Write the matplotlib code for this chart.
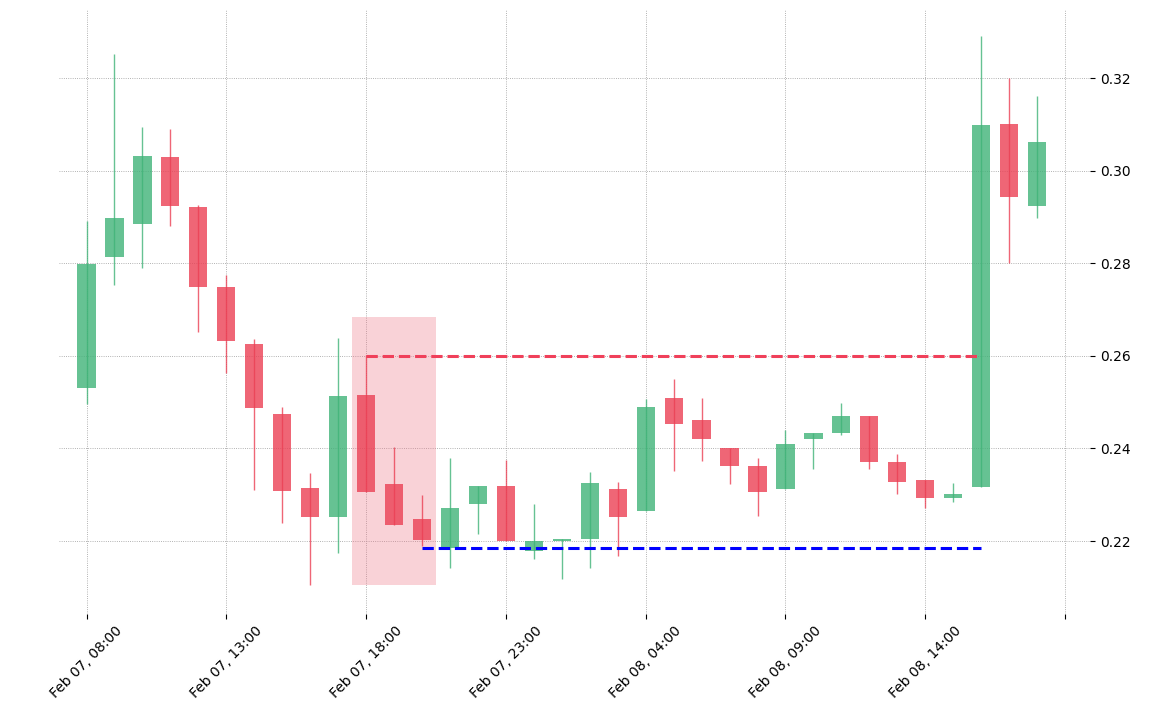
import matplotlib
matplotlib.use("Agg")
import matplotlib.pyplot as plt
from matplotlib.patches import Rectangle

opens  = [0.2530,0.2813,0.2885,0.3029,0.2921,0.2749,0.2625,0.2474,0.2314,0.2252,0.2515,0.2323,0.2248,0.2185,0.2280,0.2319,0.2178,0.2200,0.2204,0.2312,0.2265,0.2509,0.2461,0.2401,0.2362,0.2312,0.2420,0.2433,0.2470,0.2371,0.2332,0.2293,0.2317,0.3101,0.2924]
closes = [0.2798,0.2898,0.3032,0.2924,0.2749,0.2632,0.2487,0.2308,0.2252,0.2513,0.2306,0.2235,0.2202,0.2271,0.2319,0.2200,0.2200,0.2204,0.2325,0.2252,0.2489,0.2453,0.2420,0.2362,0.2306,0.2410,0.2433,0.2470,0.2371,0.2327,0.2293,0.2302,0.3098,0.2943,0.3062]
highs  = [0.2891,0.3252,0.3094,0.3090,0.2926,0.2775,0.2636,0.2489,0.2347,0.2638,0.2602,0.2403,0.2299,0.2379,0.2319,0.2375,0.2280,0.2204,0.2349,0.2327,0.2507,0.2550,0.2509,0.2401,0.2379,0.2440,0.2433,0.2498,0.2470,0.2388,0.2332,0.2325,0.3291,0.3200,0.3161]
lows   = [0.2496,0.2753,0.2790,0.2880,0.2651,0.2563,0.2310,0.2239,0.2105,0.2174,0.2306,0.2235,0.2189,0.2142,0.2215,0.2200,0.2161,0.2118,0.2142,0.2168,0.2265,0.2351,0.2373,0.2323,0.2254,0.2312,0.2356,0.2429,0.2356,0.2302,0.2271,0.2284,0.2317,0.2800,0.2898]
tick_labels = ["Feb 07, 08:00","Feb 07, 13:00","Feb 07, 18:00","Feb 07, 23:00","Feb 08, 04:00","Feb 08, 09:00","Feb 08, 14:00",""]
resistance = 0.2600
support = 0.2185
zone_low, zone_high = 0.2105, 0.2684

green = (0.25, 0.70, 0.47, 0.8)
red = (0.92, 0.25, 0.33, 0.8)

fig = plt.figure(figsize=(11.71, 7.10), dpi=100)
ax = fig.add_axes([0.050, 0.135, 0.881, 0.852])
w = 0.65
for i, (o, c, h, l) in enumerate(zip(opens, closes, highs, lows)):
    col = green if c >= o else red
    ax.vlines(i, l, h, color=col, linewidth=1, zorder=2)
    ax.add_patch(Rectangle((i - w/2, min(o, c)), w, max(abs(c - o), 0.0004), color=col, zorder=3, linewidth=0))

ax.add_patch(Rectangle((9.5, zone_low), 3.0, zone_high - zone_low, color=(0.93, 0.45, 0.52, 0.32), zorder=1, linewidth=0))
ax.hlines(resistance, 10, 32.0, colors="#f0405a", linestyles="--", linewidth=2.2, zorder=4)
ax.hlines(support, 12, 32.0, colors="#0000ff", linestyles="--", linewidth=2.2, zorder=4)

ax.set_xlim(-1, 35.9)
ax.set_ylim(0.2042, 0.3349)
ax.set_xticks(range(0, 36, 5))
ax.set_xticklabels(tick_labels, rotation=45, ha="center")
ax.set_yticks([0.22, 0.24, 0.26, 0.28, 0.30, 0.32])
ax.set_yticklabels(["0.22", "0.24", "0.26", "0.28", "0.30", "0.32"])
ax.yaxis.tick_right()
ax.grid(True, color="#999999", linestyle=":", linewidth=0.6)
ax.set_axisbelow(True)
for s in ax.spines.values():
    s.set_visible(False)
ax.tick_params(labelsize=10)
fig.savefig("out.png", dpi=100)
